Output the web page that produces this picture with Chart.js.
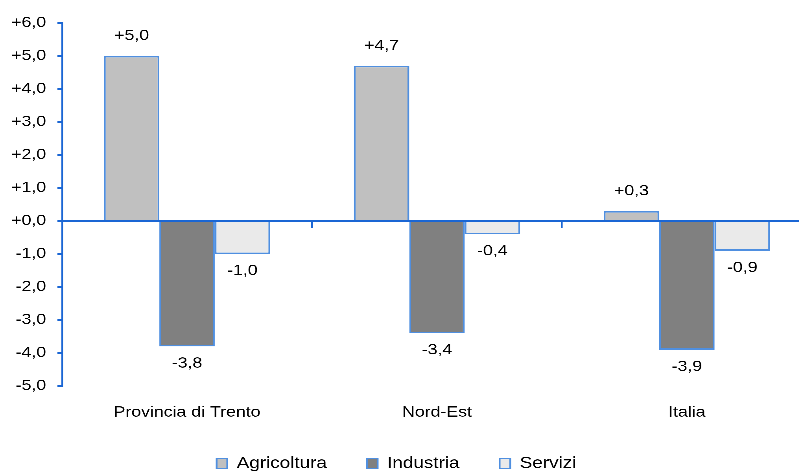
<!DOCTYPE html>
<html>
<head>
<meta charset="utf-8">
<script src="https://cdn.jsdelivr.net/npm/chart.js@4"></script>
<style>
  html, body { margin: 0; padding: 0; background: #fff; overflow: hidden; width: 799px; height: 473px; }
  #wrap { position: absolute; left: 0; top: 0; width: 692px; height: 473px; transform: scaleX(1.18); transform-origin: 0 0; }
</style>
</head>
<body>
<div id="wrap"><canvas id="c"></canvas></div>
<script>
const categories = ['Provincia di Trento', 'Nord-Est', 'Italia'];
const seriesNames = ['Agricoltura', 'Industria', 'Servizi'];
const agricoltura = [5.0, 4.7, 0.3];
const industria = [-3.8, -3.4, -3.9];
const servizi = [-1.0, -0.4, -0.9];
const yMin = -5;
const yMax = 6;
const yStep = 1;

const FONT = "'Liberation Sans', Arial, sans-serif";
const AXIS_BLUE = '#1a66d4';
const BAR_BORDER = '#4f8fe0';

function fmt(v) {
  const s = Math.abs(v).toFixed(1).replace('.', ',');
  return (v < 0 ? '-' : '+') + s;
}

const valueLabels = {
  id: 'valueLabels',
  afterDatasetsDraw(chart) {
    const ctx = chart.ctx;
    ctx.save();
    ctx.font = '15px ' + FONT;
    ctx.fillStyle = '#000';
    ctx.textAlign = 'center';
    ctx.textBaseline = 'middle';
    chart.data.datasets.forEach((ds, i) => {
      const meta = chart.getDatasetMeta(i);
      meta.data.forEach((bar, j) => {
        const v = ds.data[j];
        const y = v >= 0 ? bar.y - 20 : bar.y + 17;
        ctx.fillText(fmt(v), bar.x, y);
      });
    });
    ctx.restore();
  }
};

const legendShift = {
  id: 'legendShift',
  afterLayout(chart) {
    const l = chart.legend;
    if (l) { l.left -= 8; l.right -= 8; }
  }
};

new Chart(document.getElementById('c'), {
  type: 'bar',
  data: {
    labels: categories,
    datasets: [
      { label: seriesNames[0], data: agricoltura, backgroundColor: '#c0c0c0', borderColor: BAR_BORDER, borderWidth: 1.5 },
      { label: seriesNames[1], data: industria, backgroundColor: '#808080', borderColor: BAR_BORDER, borderWidth: 1.5 },
      { label: seriesNames[2], data: servizi, backgroundColor: '#eaeaea', borderColor: BAR_BORDER, borderWidth: 1.5 }
    ]
  },
  options: {
    responsive: true,
    maintainAspectRatio: false,
    animation: false,
    devicePixelRatio: 3,
    layout: { padding: { top: 23, left: 0, right: 4, bottom: -8.5 } },
    datasets: { bar: { categoryPercentage: 0.665, barPercentage: 1.0 } },
    plugins: {
      tooltip: { enabled: false },
      legend: {
        position: 'bottom',
        labels: {
          font: { family: FONT, size: 16 },
          color: '#000',
          boxWidth: 9,
          boxHeight: 10,
          padding: 34
        }
      }
    },
    scales: {
      x: {
        type: 'category',
        position: { y: 0 },
        offset: true,
        ticks: { display: false },
        grid: { offset: true, drawOnChartArea: false, drawTicks: true, tickLength: 6, color: AXIS_BLUE, lineWidth: 1.5 },
        border: { display: true, color: AXIS_BLUE, width: 2 }
      },
      x2: {
        type: 'category',
        labels: categories,
        position: 'bottom',
        offset: true,
        grid: { display: true, drawOnChartArea: false, drawTicks: true, tickLength: 17.5, color: 'rgba(0,0,0,0)' },
        border: { display: false },
        ticks: { font: { family: FONT, size: 15 }, color: '#000', padding: 0, maxRotation: 0 }
      },
      y: {
        min: yMin,
        max: yMax,
        ticks: { stepSize: yStep, font: { family: FONT, size: 15 }, color: '#000', padding: 9.5, callback: (v) => fmt(v) },
        grid: { drawOnChartArea: false, drawTicks: true, tickLength: 4, color: AXIS_BLUE, lineWidth: 1.5 },
        border: { display: true, color: AXIS_BLUE, width: 1.5 }
      }
    }
  },
  plugins: [valueLabels, legendShift]
});
</script>
</body>
</html>
